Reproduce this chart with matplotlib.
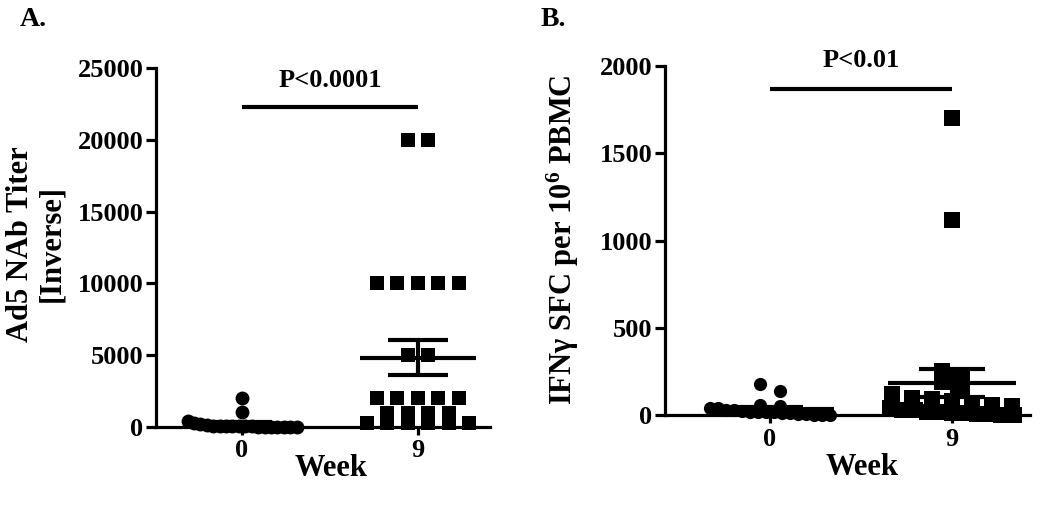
#!/usr/bin/env python3
"""Ad5 NAb titers (A) and IFN-gamma ELISPOT (B) at week 0 vs week 9."""

import numpy as np
import matplotlib
matplotlib.use("Agg")
import matplotlib.pyplot as plt

# =================== DATA ===================

WEEKS = ["0", "9"]

# Panel A: Ad5 NAb titer [inverse]
nab_wk0 = [450, 2000, 1050, 250, 200, 150, 100, 100, 100, 50,
           50, 50, 50, 0, 0, 0, 0, 0, 0, 0]
nab_wk9 = [20000, 20000, 10000, 10000, 10000, 10000, 10000, 5000, 5000,
           2000, 2000, 2000, 2000, 2000, 1000, 1000, 1000, 1000,
           300, 300, 300, 300, 300, 300]
P_TEXT_A = "P<0.0001"

# Panel B: IFN-gamma SFC per 10^6 PBMC
sfc_wk0 = [175, 140, 60, 50, 40, 40, 30, 30, 25, 20,
           20, 15, 15, 10, 10, 5, 5, 0, 0, 0]
sfc_wk9 = [1700, 1120, 250, 230, 190, 150, 120, 100, 90, 80, 70, 60,
           50, 40, 30, 30, 20, 20, 10, 10, 5, 5, 0, 0]
P_TEXT_B = "P<0.01"

# =================== STYLE ===================

plt.rcParams["font.family"] = ["Liberation Serif", "DejaVu Serif"]
plt.rcParams["font.weight"] = "bold"
plt.rcParams["mathtext.default"] = "regular"

LW_AX = 2.3
LW_BAR = 3.0
TICK_FS = 19
LABEL_FS = 22


def swarm_offsets(values, bin_size, step, half_width):
    """Spread points that share a value bin evenly around the group centre."""
    vals = np.asarray(values, dtype=float)
    bins = np.round(vals / bin_size).astype(int)
    offs = np.zeros(len(vals))
    for b in np.unique(bins):
        idx = np.where(bins == b)[0]
        k = len(idx)
        if k > 1:
            s = min(step, 2 * half_width / (k - 1))
            offs[idx] = (np.arange(k) - (k - 1) / 2) * s
    return offs


def mean_sem(values):
    v = np.asarray(values, dtype=float)
    return v.mean(), v.std(ddof=1) / np.sqrt(len(v))


def style_axes(ax, xlim, ylim, yticks):
    ax.set_xlim(*xlim)
    ax.set_ylim(*ylim)
    for side in ["top", "right"]:
        ax.spines[side].set_visible(False)
    for side in ["left", "bottom"]:
        ax.spines[side].set_linewidth(LW_AX)
    ax.set_yticks(yticks)
    ax.set_xticks([0, 1])
    ax.set_xticklabels(WEEKS)
    ax.tick_params(axis="y", length=7, width=LW_AX, labelsize=TICK_FS, pad=2)
    ax.tick_params(axis="x", length=6, width=LW_AX, labelsize=TICK_FS, pad=3)
    for lab in ax.get_xticklabels() + ax.get_yticklabels():
        lab.set_fontweight("bold")


def draw_group(ax, x0, values, marker, ms, bin_size, step, half_width,
               mean_half, cap_half):
    offs = swarm_offsets(values, bin_size, step, half_width)
    ax.plot(x0 + offs, values, linestyle="none", marker=marker, ms=ms,
            color="black", markeredgewidth=0, clip_on=False, zorder=3)
    m, se = mean_sem(values)
    ax.hlines(m, x0 - mean_half, x0 + mean_half, color="black", lw=LW_BAR, zorder=4)
    ax.vlines(x0, m - se, m + se, color="black", lw=LW_BAR, zorder=4)
    ax.hlines([m - se, m + se], x0 - cap_half, x0 + cap_half, color="black",
              lw=LW_BAR, zorder=4)


def sig_bar(ax, y, text, text_y):
    ax.plot([0, 1], [y, y], color="black", lw=LW_BAR, solid_capstyle="butt",
            clip_on=False)
    ax.text(0.5, text_y, text, ha="center", va="center", fontsize=19,
            fontweight="bold")


# =================== FIGURE ===================

fig = plt.figure(figsize=(10.5, 5.05), dpi=100)

# ---- Panel A ----
axA = fig.add_axes([0.1486, 0.1545, 0.318, 0.7109])
style_axes(axA, (-0.489, 1.409), (0, 25000), np.arange(0, 25001, 5000))
draw_group(axA, 0, nab_wk0, "o", 10, 900, 0.1165, 0.31, 0.33, 0.17)
draw_group(axA, 1, nab_wk9, "s", 9.5, 900, 0.1165, 0.31, 0.33, 0.17)
sig_bar(axA, 22300, P_TEXT_A, 24150)
axA.set_ylabel("Ad5 NAb Titer\n[Inverse]", fontsize=LABEL_FS, fontweight="bold",
               va="center", linespacing=1.1)
axA.yaxis.set_label_coords(-0.36, 0.51)
axA.set_xlabel("Week", fontsize=LABEL_FS, fontweight="bold", va="center")
axA.xaxis.set_label_coords(0.524, -0.115)
fig.text(0.019, 0.962, "A.", fontsize=20, fontweight="bold", va="center")

# ---- Panel B ----
axB = fig.add_axes([0.6333, 0.1782, 0.3476, 0.6911])
style_axes(axB, (-0.577, 1.429), (0, 2000), np.arange(0, 2001, 500))
draw_group(axB, 0, sfc_wk0, "o", 9.5, 90, 0.11, 0.33, 0.35, 0.18)
draw_group(axB, 1, sfc_wk9, "s", 11.5, 90, 0.11, 0.34, 0.35, 0.18)
sig_bar(axB, 1870, P_TEXT_B, 2030)
axB.set_ylabel(r"IFN$\gamma$ SFC per 10$^6$ PBMC", fontsize=LABEL_FS,
               fontweight="bold", va="center")
axB.yaxis.set_label_coords(-0.279, 0.501)
axB.set_xlabel("Week", fontsize=LABEL_FS, fontweight="bold", va="center")
axB.xaxis.set_label_coords(0.54, -0.15)
fig.text(0.515, 0.962, "B.", fontsize=20, fontweight="bold", va="center")

fig.savefig("out.png", dpi=100)
plt.close(fig)
